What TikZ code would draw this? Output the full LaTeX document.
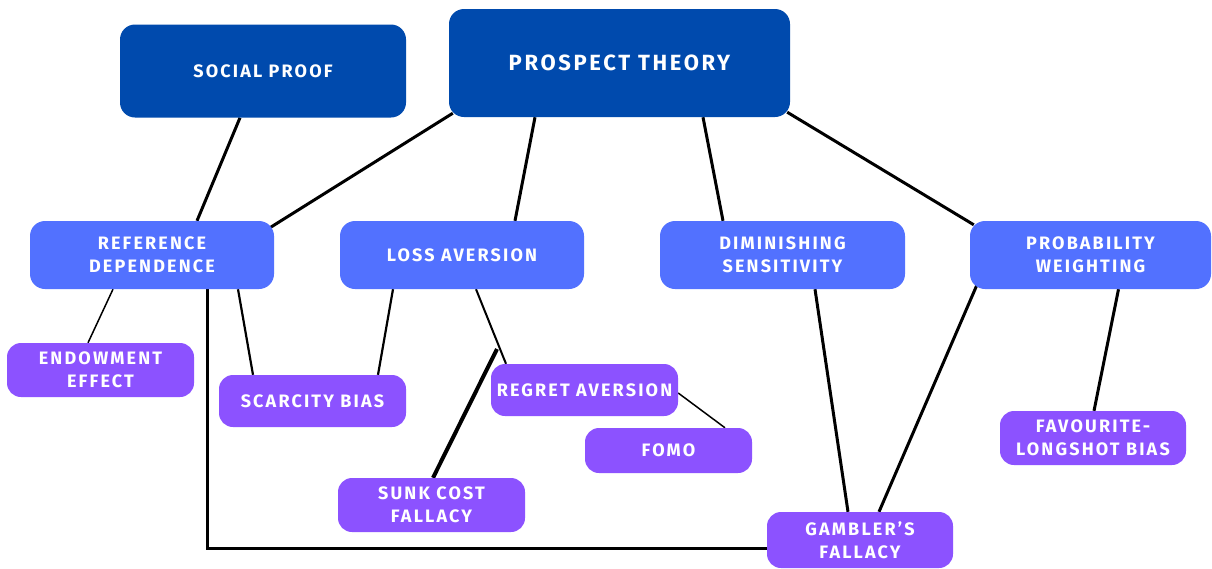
\documentclass[tikz,border=0pt]{standalone}
\usepackage{fontspec}
\newfontfamily\lblfont{Fira Sans}[LetterSpace=12]
\usetikzlibrary{calc}
\pgfdeclarelayer{back}
\pgfdeclarelayer{bg}
\pgfsetlayers{back,bg,main}
\definecolor{darkblue}{HTML}{004AAD}
\definecolor{midblue}{HTML}{5271FF}
\definecolor{purp}{HTML}{8C52FF}
\tikzset{
  box/.style={rounded corners=15pt, inner sep=0pt, align=center, text=white,
    font=\lblfont\bfseries\fontsize{18}{23}\selectfont},
  topbox/.style={box, fill=darkblue},
  midbox/.style={box, fill=midblue},
  leafbox/.style={box, fill=purp, rounded corners=14pt},
  link/.style={line width=3pt, black},
  thinlink/.style={line width=1.5pt, black},
}
\begin{document}
\begin{tikzpicture}[x=1pt,y=-1pt]
\begin{pgfonlayer}{back}
\useasboundingbox[fill=white] (0,0) rectangle (1212,563);
\end{pgfonlayer}
\node[topbox, minimum width=286pt, minimum height=93pt] (SP) at (263,71) {\raisebox{-2pt}{SOCIAL PROOF}};
\node[topbox, minimum width=341pt, minimum height=108pt, font=\lblfont\bfseries\fontsize{22}{26}\selectfont] (PT) at (619.5,63) {\raisebox{-3pt}{PROSPECT THEORY}};
\node[midbox, minimum width=244pt, minimum height=68pt] (RD) at (152,255) {REFERENCE\\DEPENDENCE};
\node[midbox, minimum width=244pt, minimum height=68pt] (LA) at (462,255) {LOSS AVERSION};
\node[midbox, minimum width=245pt, minimum height=68pt] (DS) at (782.5,255) {DIMINISHING\\SENSITIVITY};
\node[midbox, minimum width=241pt, minimum height=68pt] (PW) at (1090.5,255) {PROBABILITY\\WEIGHTING};
\node[leafbox, minimum width=187pt, minimum height=54pt] (EE) at (100.5,370) {ENDOWMENT\\EFFECT};
\node[leafbox, minimum width=187pt, minimum height=52pt] (SB) at (312.5,401) {SCARCITY BIAS};
\node[leafbox, minimum width=187pt, minimum height=52pt] (RA) at (584.5,390) {REGRET AVERSION};
\node[leafbox, minimum width=167pt, minimum height=45pt] (FO) at (668.5,450.5) {FOMO};
\node[leafbox, minimum width=187pt, minimum height=54pt] (SC) at (431.5,505) {SUNK COST\\FALLACY};
\node[leafbox, minimum width=186pt, minimum height=56pt] (GF) at (860,540) {GAMBLER’S\\FALLACY};
\node[leafbox, minimum width=186pt, minimum height=54pt] (FL) at (1093,438) {FAVOURITE-\\LONGSHOT BIAS};
\coordinate (scend) at (497,349);
\begin{pgfonlayer}{bg}
\draw[link] ([xshift=-23pt]SP.south) -- ([xshift=45pt]RD.north);
\draw[link] ([xshift=4pt,yshift=4pt]PT.south west) -- ([xshift=-6pt,yshift=-8pt]RD.north east);
\draw[link] ([xshift=-84.5pt]PT.south) -- ([xshift=53pt]LA.north);
\draw[link] ([xshift=83.5pt]PT.south) -- ([xshift=-59.5pt]DS.north);
\draw[link] ([xshift=-3pt,yshift=5pt]PT.south east) -- ([xshift=4pt,yshift=-4pt]PW.north west);
\draw[thinlink] ([xshift=-39pt]RD.south) -- ([xshift=-12.5pt]EE.north);
\draw[line width=2.2pt] ([xshift=86pt]RD.south) -- ([xshift=-59.5pt]SB.north);
\draw[line width=2.2pt] ([xshift=-69pt]LA.south) -- ([xshift=65.5pt]SB.north);
\draw[line width=2pt] ([xshift=14pt]LA.south) -- ([xshift=-78.5pt]RA.north);
\draw[line width=4pt] ([xshift=1.5pt]SC.north) -- (scend);
\draw[thinlink] ([yshift=-3pt]RA.east) -- ([xshift=56.5pt]FO.north);
\draw[link] ([xshift=32.5pt]DS.south) -- ([xshift=-12pt]GF.north);
\draw[link] ([xshift=7pt,yshift=4pt]PW.south west) -- ([xshift=19pt]GF.north);
\draw[link] ([xshift=28pt]PW.south) -- ([xshift=1pt]FL.north);
\draw[link] ([xshift=55pt]RD.south) |- ([yshift=-8pt]GF.west);
\end{pgfonlayer}
\end{tikzpicture}
\end{document}
